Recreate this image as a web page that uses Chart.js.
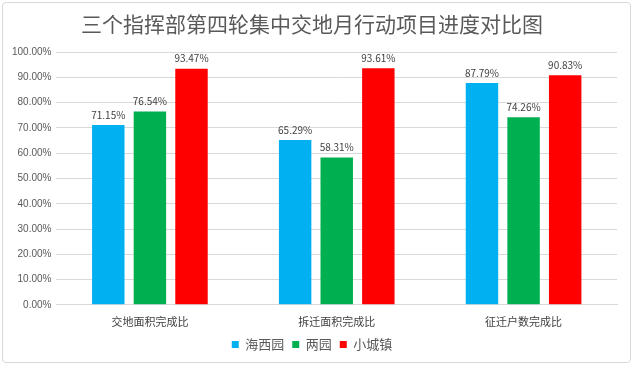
<!DOCTYPE html>
<html>
<head>
<meta charset="utf-8">
<script src="https://cdn.jsdelivr.net/npm/chart.js@4"></script>
<style>
  body { margin: 0; background: #fff; }
  #wrap { position: relative; width: 633px; height: 366px; }
  #frame { position: absolute; left: 2px; top: 2px; width: 627px; height: 359px;
           border: 1px solid #d9d9d9; border-radius: 4px; pointer-events: none; }
</style>
</head>
<body>
<div id="wrap">
  <canvas id="c" width="633" height="366"></canvas>
  <div id="frame"></div>
</div>
<script>
// 三个指挥部进度对比
const categories = ["交地面积完成比", "拆迁面积完成比", "征迁户数完成比"];
const seriesNames = ["海西园", "两园", "小城镇"];
const haixiyuan = [71.15, 65.29, 87.79];
const liangyuan = [76.54, 58.31, 74.26];
const xiaochengzhen = [93.47, 93.61, 90.83];
const seriesColors = ["#00b0f0", "#00b050", "#ff0000"];

const fontFamily = "'Noto Sans CJK SC', 'Noto Sans', sans-serif";

// 柱顶数值标签
const valueLabels = {
  id: "valueLabels",
  afterDatasetsDraw(chart) {
    const ctx = chart.ctx;
    ctx.save();
    ctx.font = "10px " + fontFamily;
    ctx.fillStyle = "#404040";
    ctx.textAlign = "center";
    ctx.textBaseline = "bottom";
    chart.data.datasets.forEach((ds, i) => {
      chart.getDatasetMeta(i).data.forEach((bar, j) => {
        ctx.fillText(ds.data[j].toFixed(2) + "%", bar.x, bar.y - 5);
      });
    });
    ctx.restore();
  }
};

new Chart(document.getElementById("c"), {
  type: "bar",
  data: {
    labels: categories,
    datasets: [
      { label: seriesNames[0], data: haixiyuan, backgroundColor: seriesColors[0] },
      { label: seriesNames[1], data: liangyuan, backgroundColor: seriesColors[1] },
      { label: seriesNames[2], data: xiaochengzhen, backgroundColor: seriesColors[2] }
    ]
  },
  plugins: [valueLabels],
  options: {
    responsive: false,
    animation: false,
    layout: { padding: { left: 7, right: 16, top: 6, bottom: 5 } },
    datasets: { bar: { categoryPercentage: 0.668, barPercentage: 0.78 } },
    plugins: {
      title: {
        display: true,
        text: "三个指挥部第四轮集中交地月行动项目进度对比图",
        color: "#595959",
        font: { family: fontFamily, size: 21, weight: "normal" },
        padding: { top: 5, bottom: 16 }
      },
      legend: {
        position: "bottom",
        labels: {
          color: "#595959",
          font: { family: fontFamily, size: 13 },
          boxWidth: 7,
          boxHeight: 7,
          padding: 8
        }
      },
      tooltip: { enabled: false }
    },
    scales: {
      x: {
        grid: { display: false },
        border: { color: "#d9d9d9" },
        ticks: { color: "#404040", font: { family: fontFamily, size: 11 }, padding: 2 }
      },
      y: {
        min: 0,
        max: 100,
        ticks: {
          stepSize: 10,
          color: "#595959",
          font: { family: "'Liberation Sans', sans-serif", size: 10 },
          padding: 5,
          callback: v => v.toFixed(2) + "%"
        },
        grid: { color: "#d9d9d9", drawTicks: false },
        border: { display: false }
      }
    }
  }
});
</script>
</body>
</html>
